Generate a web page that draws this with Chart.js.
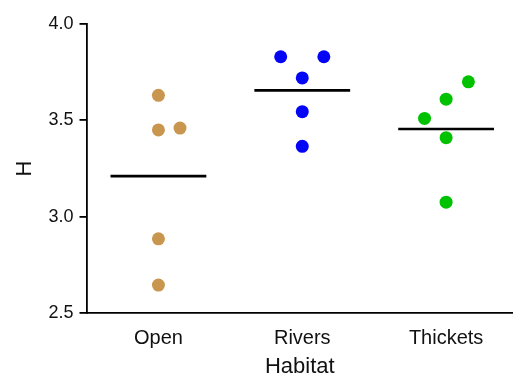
<!DOCTYPE html>
<html>
<head>
<meta charset="utf-8">
<script src="https://cdn.jsdelivr.net/npm/chart.js@4.4.1/dist/chart.umd.min.js"></script>
<style>
  html, body { margin: 0; padding: 0; background: #fff; }
  #wrap { width: 513px; height: 378px; }
</style>
</head>
<body>
<div id="wrap"><canvas id="myChart"></canvas></div>
<script>
const categories = ['Open', 'Rivers', 'Thickets'];
const openValues = [3.63, 3.45, 3.46, 2.885, 2.645];
const riversValues = [3.83, 3.83, 3.72, 3.545, 3.365];
const thicketsValues = [3.70, 3.61, 3.51, 3.41, 3.075];
// horizontal jitter of each point inside its group
const openJitter = [0, 0, 0.15, 0, 0];
const riversJitter = [-0.15, 0.15, 0, 0, 0];
const thicketsJitter = [0.155, 0, -0.15, 0, 0];
const means = [3.21, 3.655, 3.455];
const yTicks = [2.5, 3.0, 3.5, 4.0];

const colors = ['#C9964F', '#0505F5', '#00C200'];
const groups = [
    [openValues, openJitter],
    [riversValues, riversJitter],
    [thicketsValues, thicketsJitter]
];

const datasets = [];
groups.forEach((g, i) => {
    datasets.push({
        type: 'scatter',
        label: categories[i],
        data: g[0].map((v, k) => ({ x: i + g[1][k], y: v })),
        backgroundColor: colors[i],
        borderColor: colors[i],
        pointRadius: 6.5,
        pointHoverRadius: 6.5,
        borderWidth: 0
    });
});
means.forEach((m, i) => {
    datasets.push({
        type: 'line',
        label: categories[i] + ' mean',
        data: [{ x: i - 0.333, y: m }, { x: i + 0.333, y: m }],
        borderColor: '#000',
        borderWidth: 2.7,
        pointRadius: 0,
        fill: false
    });
});

const ctx = document.getElementById('myChart').getContext('2d');
const myChart = new Chart(ctx, {
    type: 'scatter',
    data: { datasets: datasets },
    options: {
        responsive: true,
        maintainAspectRatio: false,
        animation: false,
        layout: {
            autoPadding: false,
            padding: { top: 24, right: 0, left: 0, bottom: 0 }
        },
        plugins: {
            legend: { display: false },
            tooltip: { enabled: true }
        },
        scales: {
            x: {
                type: 'linear',
                min: -0.5,
                max: 2.465,
                afterBuildTicks: (scale) => {
                    scale.ticks = categories.map((c, i) => ({ value: i }));
                },
                afterFit: (scale) => {
                    scale.height = 65;
                    scale.paddingLeft = 0;
                    scale.paddingRight = 0;
                },
                ticks: {
                    callback: (v) => categories[v],
                    color: '#111',
                    font: { family: 'Liberation Sans', size: 20 },
                    padding: 13,
                    maxRotation: 0
                },
                grid: { display: false, drawTicks: false },
                border: { display: true, color: '#000', width: 1.8 },
                title: {
                    display: true,
                    text: 'Habitat',
                    color: '#111',
                    font: { family: 'Liberation Sans', size: 22, lineHeight: 1 },
                    padding: { top: 0, bottom: 0 }
                }
            },
            y: {
                min: 2.5,
                max: 4.0,
                afterBuildTicks: (scale) => {
                    scale.ticks = yTicks.map(v => ({ value: v }));
                },
                afterFit: (scale) => { scale.width = 86.5; },
                ticks: {
                    callback: (v) => v.toFixed(1),
                    color: '#111',
                    font: { family: 'Liberation Sans', size: 18 },
                    padding: 6
                },
                grid: {
                    display: true,
                    drawOnChartArea: false,
                    drawTicks: true,
                    tickLength: 7,
                    color: '#000',
                    lineWidth: 1.8
                },
                border: { display: true, color: '#000', width: 1.8 },
                title: {
                    display: true,
                    text: 'H',
                    color: '#111',
                    font: { family: 'Liberation Sans', size: 22, lineHeight: 1 },
                    padding: { top: 14, bottom: 0 }
                }
            }
        }
    }
});
</script>
</body>
</html>
